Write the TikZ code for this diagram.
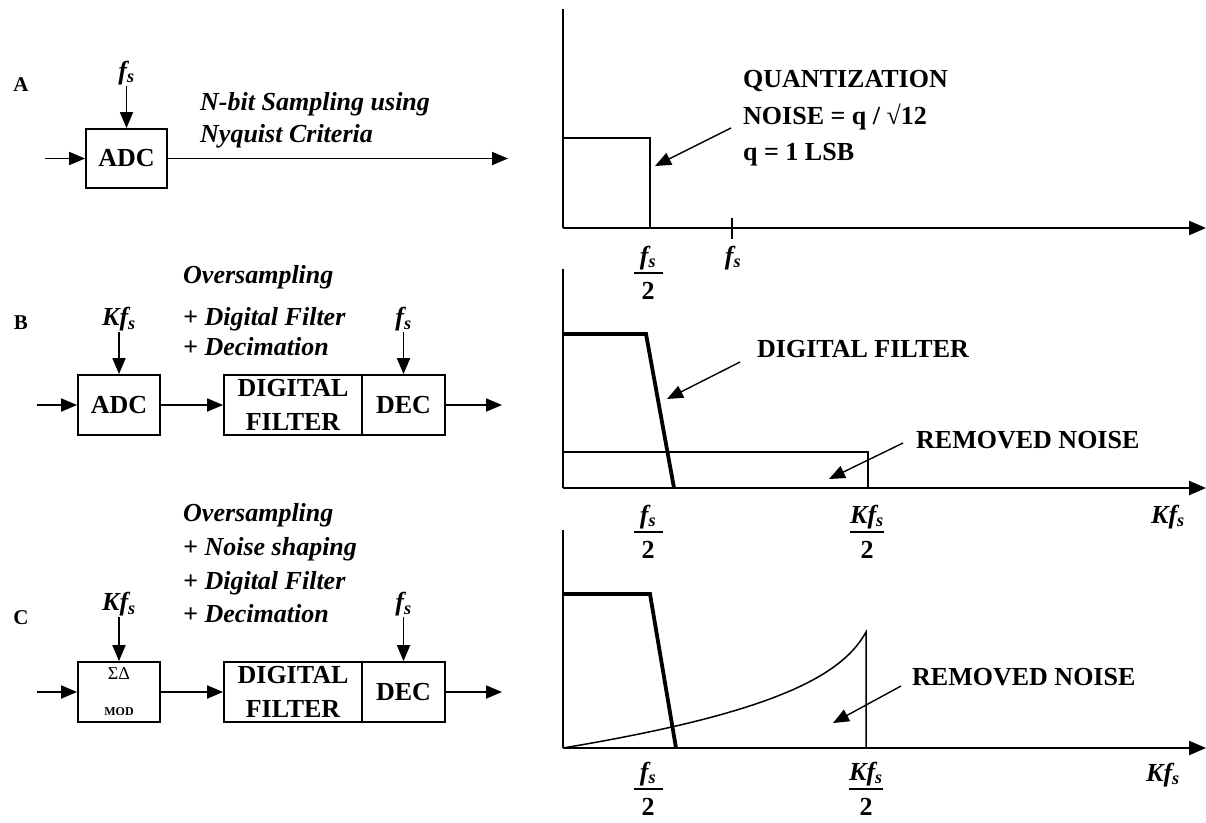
\documentclass[tikz,border=0pt]{standalone}
\usepackage{fontspec}
\setmainfont{Liberation Serif}
\usetikzlibrary{arrows.meta}
\newcommand{\Fs}{\textit{f}\textsubscript{\textit{s}}}
\newcommand{\lblfont}{\fontsize{26}{34}\selectfont\bfseries}
\newcommand{\itlfont}{\fontsize{26}{30}\selectfont\bfseries\itshape}
\newcommand{\rowfont}{\fontsize{21}{24}\selectfont\bfseries}
% fraction label: name, x, bar y, half bar width, numerator
\newcommand{\fracl}[5]{%
  \node[itl,anchor=base] (#1n) at (#2,{#3-9}) {#5};
  \draw[line width=1.6pt] ({#2-#4},#3) -- ({#2+#4},#3);
  \node[lbl,anchor=base] (#1d) at (#2,{#3+26}) {2};}
\begin{document}
\begin{tikzpicture}[x=1pt,y=-1pt,line join=miter,
  bx/.style={draw,line width=1.8pt,minimum height=60pt,inner sep=0pt,font=\lblfont,align=center},
  arr/.style={line width=1.8pt,-{Triangle[length=16pt,width=13pt]}},
  ptr/.style={line width=1.4pt,-{Triangle[length=16pt,width=13pt]}},
  ax/.style={line width=2.4pt},
  axarr/.style={line width=2.4pt,-{Triangle[length=17pt,width=14pt]}},
  thinl/.style={line width=1.5pt},
  filt/.style={line width=3.8pt},
  lbl/.style={font=\lblfont,inner sep=0pt},
  itl/.style={font=\itlfont,inner sep=0pt},
  rowl/.style={font=\rowfont,inner sep=0pt}
]
\useasboundingbox (0,0) rectangle (1206,822);

% ================= Row A =================
\node[rowl] (labA) at (21,85) {A};
\node[bx,minimum width=81pt,minimum height=59pt] (adcA) at (126.5,158.5) {ADC};
\node[itl,anchor=south,inner sep=1pt] (fsA) at (126.5,86) {\Fs};
\coordinate (inA) at (45,158.5);
\coordinate (outA) at (508,158.5);
\draw[arr] (inA) -- (adcA.west);
\draw[arr] (adcA.east) -- (outA);
\draw[arr] (fsA.south) -- (adcA.north);
\node[itl,anchor=base west] (tA1) at (200,110) {N-bit Sampling using};
\node[itl,anchor=base west] (tA2) at (200,142) {Nyquist Criteria};

% ================= Row B =================
\node[rowl] (labB) at (21,323) {B};
\node[bx,minimum width=82pt] (adcB) at (119,405) {ADC};
\node[bx,minimum width=138pt] (dfB) at (293,405) {DIGITAL\\FILTER};
\node[bx,minimum width=83pt] (decB) at (403.5,405) {DEC};
\node[itl,anchor=south,inner sep=1pt] (kfsB) at (119,332) {K\Fs};
\node[itl,anchor=south,inner sep=1pt] (fsB) at (403.5,332) {\Fs};
\coordinate (inB) at (37,405);
\coordinate (outB) at (502,405);
\draw[arr] (inB) -- (adcB.west);
\draw[arr] (adcB.east) -- (dfB.west);
\draw[arr] (decB.east) -- (outB);
\draw[arr] (kfsB.south) -- (adcB.north);
\draw[arr] (fsB.south) -- (decB.north);
\node[itl,anchor=base west] (tB1) at (183,283) {Oversampling};
\node[itl,anchor=base west] (tB2) at (183,325) {+ Digital Filter};
\node[itl,anchor=base west] (tB3) at (183,355) {+ Decimation};

% ================= Row C =================
\node[rowl] (labC) at (21,618) {C};
\node[bx,minimum width=82pt] (modC) at (119,692) {{\fontsize{18}{20}\selectfont\mdseries\char"03A3\char"0394}\\[2pt]{\fontsize{12}{14}\selectfont\bfseries MOD}};
\node[bx,minimum width=138pt] (dfC) at (293,692) {DIGITAL\\FILTER};
\node[bx,minimum width=83pt] (decC) at (403.5,692) {DEC};
\node[itl,anchor=south,inner sep=1pt] (kfsC) at (119,617) {K\Fs};
\node[itl,anchor=south,inner sep=1pt] (fsC) at (403.5,617) {\Fs};
\coordinate (inC) at (37,692);
\coordinate (outC) at (502,692);
\draw[arr] (inC) -- (modC.west);
\draw[arr] (modC.east) -- (dfC.west);
\draw[arr] (decC.east) -- (outC);
\draw[arr] (kfsC.south) -- (modC.north);
\draw[arr] (fsC.south) -- (decC.north);
\node[itl,anchor=base west] (tC1) at (183,521) {Oversampling};
\node[itl,anchor=base west] (tC2) at (183,555) {+ Noise shaping};
\node[itl,anchor=base west] (tC3) at (183,589) {+ Digital Filter};
\node[itl,anchor=base west] (tC4) at (183,622) {+ Decimation};

% ================= Graph A =================
\coordinate (oA) at (563,228);
\coordinate (yA) at (563,9);
\coordinate (xA) at (1206,228);
\draw[ax] (yA) -- (oA);
\draw[axarr] (oA) -- (xA);
\draw[thinl] (563,138) -- (650,138) -- (650,228);
\draw[thinl] (732,218) -- (732,239);
\fracl{hA}{648}{273}{14.5}{\Fs}
\node[itl,anchor=base] (fsxA) at (733,264) {\Fs};
\node[lbl,anchor=base west] (qA1) at (743,87) {QUANTIZATION};
\node[lbl,anchor=base west] (qA2) at (743,124) {NOISE = q / √12};
\node[lbl,anchor=base west] (qA3) at (743,160) {q = 1 LSB};
\coordinate (pA1) at (731,128);
\coordinate (pA2) at (655,166);
\draw[ptr] (pA1) -- (pA2);

% ================= Graph B =================
\coordinate (oB) at (563,488);
\coordinate (yB) at (563,269);
\coordinate (xB) at (1206,488);
\draw[ax] (yB) -- (oB);
\draw[axarr] (oB) -- (xB);
\draw[filt] (563,334) -- (646,334) -- (674,488);
\draw[thinl] (563,452) -- (868,452) -- (868,488);
\node[lbl,anchor=base west] (dfl) at (757,357) {DIGITAL FILTER};
\coordinate (pB1) at (740,362);
\coordinate (pB2) at (667,399);
\draw[ptr] (pB1) -- (pB2);
\node[lbl,anchor=base west] (rnB) at (916,448) {REMOVED NOISE};
\coordinate (pB3) at (903,443);
\coordinate (pB4) at (829,479);
\draw[ptr] (pB3) -- (pB4);
\fracl{hB1}{648}{532}{14.5}{\Fs}
\fracl{hB2}{867}{532}{17}{K\Fs}
\node[itl,anchor=base] (kB) at (1168,523) {K\Fs};

% ================= Graph C =================
\coordinate (oC) at (563,748);
\coordinate (yC) at (563,530);
\coordinate (xC) at (1206,748);
\draw[ax] (yC) -- (oC);
\draw[axarr] (oC) -- (xC);
\draw[filt] (563,594) -- (650,594) -- (676,748);
\draw[thinl] (563,748) .. controls (760,715) and (840,680) .. (866,632) -- (866,748);
\node[lbl,anchor=base west] (rnC) at (912,685) {REMOVED NOISE};
\coordinate (pC1) at (901,686);
\coordinate (pC2) at (833,723);
\draw[ptr] (pC1) -- (pC2);
\fracl{hC1}{648}{789}{14.5}{\Fs}
\fracl{hC2}{866}{789}{17}{K\Fs}
\node[itl,anchor=base] (kC) at (1163,781) {K\Fs};
\end{tikzpicture}
\end{document}
